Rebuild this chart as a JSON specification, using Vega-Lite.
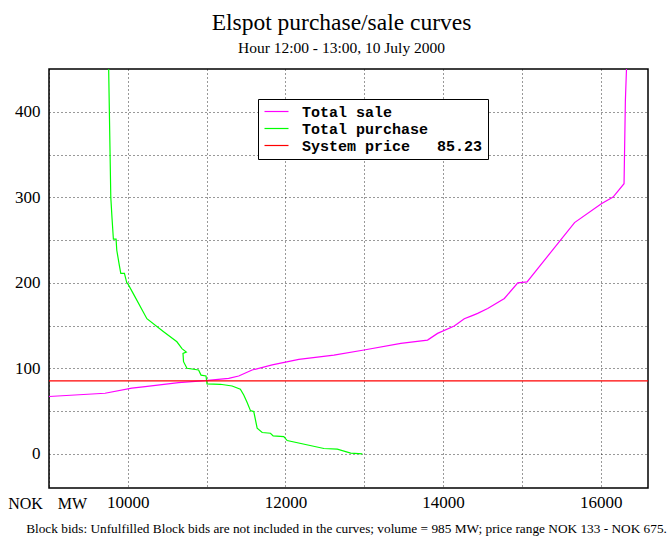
{
  "$schema": "https://vega.github.io/schema/vega-lite/v6.json",
  "width": 599,
  "height": 419,
  "autosize": {"type": "none"},
  "padding": {"left": 49, "top": 69, "right": 21, "bottom": 58},
  "background": "white",
  "title": {
    "text": "Elspot purchase/sale curves",
    "subtitle": "Hour 12:00 - 13:00, 10 July 2000",
    "font": "Liberation Serif",
    "fontSize": 23.5,
    "fontWeight": "normal",
    "color": "black",
    "subtitleFont": "Liberation Serif",
    "subtitleFontSize": 15.5,
    "subtitleColor": "black",
    "subtitlePadding": 6,
    "anchor": "middle",
    "dx": -7,
    "offset": 13
  },
  "config": {
    "view": {"stroke": "black", "strokeWidth": 1.5},
    "axis": {
      "labelFont": "Liberation Serif",
      "labelFontSize": 17,
      "labelColor": "black",
      "titleFont": "Liberation Serif",
      "titleFontSize": 16,
      "titleFontWeight": "normal",
      "titleColor": "black",
      "ticks": false,
      "domain": false,
      "gridColor": "#000000",
      "gridDash": [1, 3],
      "gridOpacity": 0.8,
      "labelPadding": 6
    }
  },
  "layer": [
    {
      "data": {
        "values": [
          {"series": "Total sale", "i": 1, "mw": 9000, "price": 67},
          {"series": "Total sale", "i": 2, "mw": 9711, "price": 70.8},
          {"series": "Total sale", "i": 3, "mw": 10051, "price": 76.7},
          {"series": "Total sale", "i": 4, "mw": 10220, "price": 78.5},
          {"series": "Total sale", "i": 5, "mw": 10644, "price": 83.2},
          {"series": "Total sale", "i": 6, "mw": 10983, "price": 85.5},
          {"series": "Total sale", "i": 7, "mw": 11280, "price": 88.3},
          {"series": "Total sale", "i": 8, "mw": 11407, "price": 91},
          {"series": "Total sale", "i": 9, "mw": 11577, "price": 98},
          {"series": "Total sale", "i": 10, "mw": 11832, "price": 104},
          {"series": "Total sale", "i": 11, "mw": 12170, "price": 110.5},
          {"series": "Total sale", "i": 12, "mw": 12615, "price": 115.5},
          {"series": "Total sale", "i": 13, "mw": 12997, "price": 121.4},
          {"series": "Total sale", "i": 14, "mw": 13464, "price": 129.2},
          {"series": "Total sale", "i": 15, "mw": 13803, "price": 133},
          {"series": "Total sale", "i": 16, "mw": 13930, "price": 140.8},
          {"series": "Total sale", "i": 17, "mw": 14142, "price": 149.4},
          {"series": "Total sale", "i": 18, "mw": 14269, "price": 158},
          {"series": "Total sale", "i": 19, "mw": 14354, "price": 161},
          {"series": "Total sale", "i": 20, "mw": 14439, "price": 164.2},
          {"series": "Total sale", "i": 21, "mw": 14566, "price": 170},
          {"series": "Total sale", "i": 22, "mw": 14778, "price": 181.7},
          {"series": "Total sale", "i": 23, "mw": 14948, "price": 199.9},
          {"series": "Total sale", "i": 24, "mw": 15066, "price": 201},
          {"series": "Total sale", "i": 25, "mw": 15668, "price": 270.4},
          {"series": "Total sale", "i": 26, "mw": 16008, "price": 292.5},
          {"series": "Total sale", "i": 27, "mw": 16157, "price": 300.2},
          {"series": "Total sale", "i": 28, "mw": 16296, "price": 315.9},
          {"series": "Total sale", "i": 29, "mw": 16313, "price": 413},
          {"series": "Total sale", "i": 30, "mw": 16327, "price": 450},

          {"series": "Total purchase", "i": 1, "mw": 9757, "price": 450},
          {"series": "Total purchase", "i": 2, "mw": 9766, "price": 400},
          {"series": "Total purchase", "i": 3, "mw": 9784, "price": 300},
          {"series": "Total purchase", "i": 4, "mw": 9800, "price": 275},
          {"series": "Total purchase", "i": 5, "mw": 9817, "price": 251},
          {"series": "Total purchase", "i": 6, "mw": 9851, "price": 251},
          {"series": "Total purchase", "i": 7, "mw": 9860, "price": 238},
          {"series": "Total purchase", "i": 8, "mw": 9893, "price": 220},
          {"series": "Total purchase", "i": 9, "mw": 9911, "price": 211},
          {"series": "Total purchase", "i": 10, "mw": 9957, "price": 211},
          {"series": "Total purchase", "i": 11, "mw": 9987, "price": 200},
          {"series": "Total purchase", "i": 12, "mw": 10000, "price": 199},
          {"series": "Total purchase", "i": 13, "mw": 10071, "price": 187},
          {"series": "Total purchase", "i": 14, "mw": 10242, "price": 158},
          {"series": "Total purchase", "i": 15, "mw": 10450, "price": 143},
          {"series": "Total purchase", "i": 16, "mw": 10623, "price": 131},
          {"series": "Total purchase", "i": 17, "mw": 10687, "price": 123},
          {"series": "Total purchase", "i": 18, "mw": 10742, "price": 119},
          {"series": "Total purchase", "i": 19, "mw": 10700, "price": 117.5},
          {"series": "Total purchase", "i": 20, "mw": 10707, "price": 107.7},
          {"series": "Total purchase", "i": 21, "mw": 10750, "price": 100},
          {"series": "Total purchase", "i": 22, "mw": 10898, "price": 98},
          {"series": "Total purchase", "i": 23, "mw": 10929, "price": 92},
          {"series": "Total purchase", "i": 24, "mw": 10992, "price": 91},
          {"series": "Total purchase", "i": 25, "mw": 11005, "price": 81.7},
          {"series": "Total purchase", "i": 26, "mw": 11174, "price": 81.3},
          {"series": "Total purchase", "i": 27, "mw": 11323, "price": 79.3},
          {"series": "Total purchase", "i": 28, "mw": 11428, "price": 75.5},
          {"series": "Total purchase", "i": 29, "mw": 11471, "price": 68.8},
          {"series": "Total purchase", "i": 30, "mw": 11514, "price": 60},
          {"series": "Total purchase", "i": 31, "mw": 11556, "price": 50.5},
          {"series": "Total purchase", "i": 32, "mw": 11598, "price": 49.4},
          {"series": "Total purchase", "i": 33, "mw": 11641, "price": 30},
          {"series": "Total purchase", "i": 34, "mw": 11705, "price": 24.9},
          {"series": "Total purchase", "i": 35, "mw": 11810, "price": 24},
          {"series": "Total purchase", "i": 36, "mw": 11844, "price": 21},
          {"series": "Total purchase", "i": 37, "mw": 11979, "price": 20},
          {"series": "Total purchase", "i": 38, "mw": 12022, "price": 15.5},
          {"series": "Total purchase", "i": 39, "mw": 12488, "price": 6.2},
          {"series": "Total purchase", "i": 40, "mw": 12658, "price": 5.5},
          {"series": "Total purchase", "i": 41, "mw": 12828, "price": 0.8},
          {"series": "Total purchase", "i": 42, "mw": 12976, "price": 0}
        ]
      },
      "mark": {"type": "line", "strokeWidth": 1.2, "clip": true},
      "encoding": {
        "x": {
          "field": "mw",
          "type": "quantitative",
          "scale": {"domain": [9000, 16600], "nice": false, "zero": false},
          "axis": {
            "orient": "bottom",
            "values": [9000, 10000, 11000, 12000, 13000, 14000, 15000, 16000],
            "format": "d",
            "labelExpr": "datum.value % 2000 === 0 && datum.value > 9000 ? datum.label : ''",
            "grid": true,
            "title": "MW",
            "titleX": 23,
            "titleY": 15,
            "titleAlign": "center",
            "titleBaseline": "middle"
          }
        },
        "y": {
          "field": "price",
          "type": "quantitative",
          "scale": {"domain": [-40, 450], "nice": false, "zero": false},
          "axis": {
            "orient": "left",
            "values": [0, 50, 100, 150, 200, 250, 300, 350, 400],
            "labelExpr": "datum.value % 100 === 0 ? datum.label : ''",
            "labelPadding": 9,
            "grid": true,
            "title": "NOK",
            "titleAngle": 0,
            "titleX": -24,
            "titleY": 434,
            "titleAlign": "center",
            "titleBaseline": "middle"
          }
        },
        "order": {"field": "i", "type": "quantitative"},
        "color": {
          "field": "series",
          "type": "nominal",
          "scale": {
            "domain": ["Total sale", "Total purchase", "System price"],
            "range": ["#ff00ff", "#00ff00", "#ff0000"]
          },
          "legend": {
            "title": null,
            "orient": "none",
            "legendX": 209,
            "legendY": 30,
            "fillColor": "white",
            "strokeColor": "black",
            "padding": 5,
            "rowPadding": 1,
            "symbolType": "M-1,0H3",
            "symbolSize": 144,
            "symbolStrokeWidth": 1.2,
            "labelOffset": 24,
            "labelFont": "Liberation Mono",
            "labelFontWeight": "bold",
            "labelFontSize": 15,
            "labelColor": "black",
            "labelLimit": 400,
            "labelExpr": "datum.label === 'System price' ? 'System price\u00a0\u00a0\u00a085.23' : datum.label"
          }
        }
      }
    },
    {
      "data": {"values": [{"series": "System price", "price": 85.23}]},
      "mark": {"type": "rule", "strokeWidth": 1.2},
      "encoding": {
        "y": {
          "field": "price",
          "type": "quantitative",
          "axis": {
            "orient": "right",
            "grid": false,
            "labels": false,
            "ticks": false,
            "domain": false,
            "title": "Block bids: Unfulfilled Block bids are not included in the curves; volume = 985 MW; price range NOK 133 - NOK 675.",
            "titleFontSize": 13.3,
            "titleAngle": 0,
            "titleX": -302,
            "titleY": 459,
            "titleAlign": "center",
            "titleBaseline": "middle",
            "titleLimit": 700
          }
        },
        "color": {"field": "series", "type": "nominal"}
      }
    }
  ],
  "resolve": {"axis": {"y": "independent"}}
}
